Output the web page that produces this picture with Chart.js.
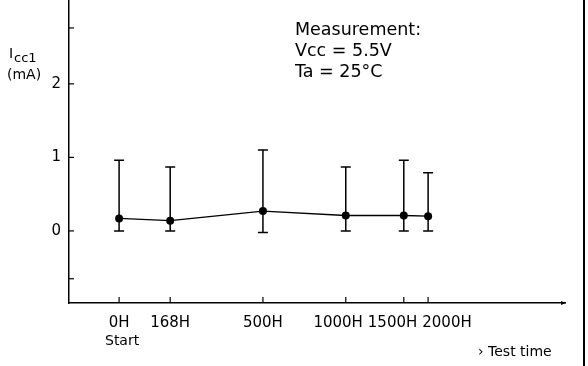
<!DOCTYPE html>
<html>
<head>
<meta charset="utf-8">
<script src="https://cdn.jsdelivr.net/npm/chart.js@4"></script>
<style>
  html, body { margin: 0; padding: 0; background: #fff; }
  #wrap { width: 588px; height: 366px; }
</style>
</head>
<body>
<div id="wrap"><canvas id="icc"></canvas></div>
<script>
// test stages, placed along a schematic (non proportional) time axis
var stages = ["0H", "168H", "500H", "1000H", "1500H", "2000H"];
var stagePos = [10.1, 20.4, 39.1, 55.8, 67.5, 72.4];

// Icc1 (mA): mean and min / max spread
var iccMean = [0.17, 0.14, 0.27, 0.21, 0.21, 0.20];
var iccMax = [0.96, 0.87, 1.10, 0.87, 0.96, 0.79];
var iccMin = [0, 0, -0.02, 0, 0, 0];

var yLabels = [0, 1, 2];
var yTickMarks = [-0.65, 0, 1, 2, 2.76];

var noteLines = ["Measurement:", "Vcc = 5.5V", "Ta = 25\u00B0C"];

var FONT = "'DejaVu Sans', sans-serif";

var points = [];
for (var i = 0; i < stages.length; i++) {
    points.push({x: stagePos[i], y: iccMean[i]});
}

var extras = {
    id: "extras",
    afterDatasetsDraw: function(chart) {
        var c = chart.ctx;
        var xs = chart.scales.x;
        var ys = chart.scales.y;
        var area = chart.chartArea;

        c.save();
        c.strokeStyle = "#000";
        c.fillStyle = "#000";

        // error bars
        c.lineWidth = 1.5;
        for (var i = 0; i < stages.length; i++) {
            var px = xs.getPixelForValue(stagePos[i]);
            var top = ys.getPixelForValue(iccMax[i]);
            var bot = ys.getPixelForValue(iccMin[i]);
            c.beginPath();
            c.moveTo(px, top); c.lineTo(px, bot);
            c.moveTo(px - 5, top); c.lineTo(px + 5, top);
            c.moveTo(px - 5, bot); c.lineTo(px + 5, bot);
            c.stroke();
        }

        // y tick marks (inside)
        c.lineWidth = 1.2;
        for (var j = 0; j < yTickMarks.length; j++) {
            var py = ys.getPixelForValue(yTickMarks[j]);
            c.beginPath();
            c.moveTo(area.left, py); c.lineTo(area.left + 5, py);
            c.stroke();
        }

        // x tick marks (inside) and labels
        c.font = "15px " + FONT;
        c.textAlign = "center";
        c.textBaseline = "alphabetic";
        var centers = [];
        var widths = [];
        for (var k = 0; k < stages.length; k++) {
            var tx = xs.getPixelForValue(stagePos[k]);
            c.beginPath();
            c.moveTo(tx, area.bottom); c.lineTo(tx, area.bottom - 6);
            c.stroke();
            centers.push(tx);
            widths.push(c.measureText(stages[k]).width);
        }
        // push crowded labels apart
        for (var it = 0; it < 30; it++) {
            for (var m = 1; m < centers.length; m++) {
                var over = (centers[m - 1] + widths[m - 1] / 2 + 5) - (centers[m] - widths[m] / 2);
                if (over > 0) {
                    centers[m - 1] -= over / 2;
                    centers[m] += over / 2;
                }
            }
        }
        for (var n = 0; n < stages.length; n++) {
            c.fillText(stages[n], centers[n], area.bottom + 24);
        }
        c.font = "14px " + FONT;
        c.fillText("Start", centers[0] + 3, area.bottom + 42);

        // arrow tip at the end of the time axis
        c.beginPath();
        c.moveTo(area.right + 1, area.bottom);
        c.lineTo(area.right - 4, area.bottom - 2);
        c.lineTo(area.right - 4, area.bottom + 2);
        c.closePath();
        c.fill();

        c.textAlign = "left";
        c.fillText("\u203A Test time", 478, area.bottom + 53);

        // y axis title: Icc1 (mA)
        c.font = "14px " + FONT;
        c.fillText("I", 9, 58);
        c.font = "13px " + FONT;
        c.fillText("cc1", 14, 62);
        c.font = "14px " + FONT;
        c.fillText("(mA)", 7, 79);

        // measurement conditions
        c.font = "17.5px " + FONT;
        for (var q = 0; q < noteLines.length; q++) {
            c.fillText(noteLines[q], 295, 35 + q * 21);
        }

        // frame line on the right
        c.lineWidth = 2;
        c.beginPath();
        c.moveTo(584, 0); c.lineTo(584, chart.height);
        c.stroke();

        c.restore();
    }
};

var ctx = document.getElementById("icc").getContext("2d");
var chart = new Chart(ctx, {
    type: "line",
    data: {
        datasets: [{
            data: points,
            borderColor: "#000",
            borderWidth: 1.3,
            backgroundColor: "#000",
            pointRadius: 4,
            pointBackgroundColor: "#000",
            pointBorderWidth: 0,
            tension: 0
        }]
    },
    options: {
        responsive: true,
        maintainAspectRatio: false,
        animation: false,
        layout: { autoPadding: false, padding: { left: 0, right: 23, top: 0, bottom: 0 } },
        plugins: {
            legend: { display: false },
            tooltip: { enabled: false }
        },
        scales: {
            x: {
                type: "linear",
                min: 0,
                max: 100,
                grid: { display: false },
                border: { display: true, color: "#000", width: 1.5 },
                ticks: { display: false },
                afterFit: function(scale) {
                    scale.height = 63;
                    scale.paddingLeft = 0;
                    scale.paddingRight = 0;
                }
            },
            y: {
                min: -0.98,
                max: 3.14,
                grid: { display: false, drawTicks: false },
                border: { display: true, color: "#000", width: 1.5 },
                afterBuildTicks: function(scale) {
                    scale.ticks = yLabels.map(function(v) { return {value: v}; });
                },
                ticks: {
                    color: "#000",
                    padding: 8,
                    font: { family: FONT, size: 15 }
                },
                afterFit: function(scale) {
                    scale.width = 69;
                    scale.paddingTop = 0;
                    scale.paddingBottom = 0;
                }
            }
        }
    },
    plugins: [extras]
});
</script>
</body>
</html>
